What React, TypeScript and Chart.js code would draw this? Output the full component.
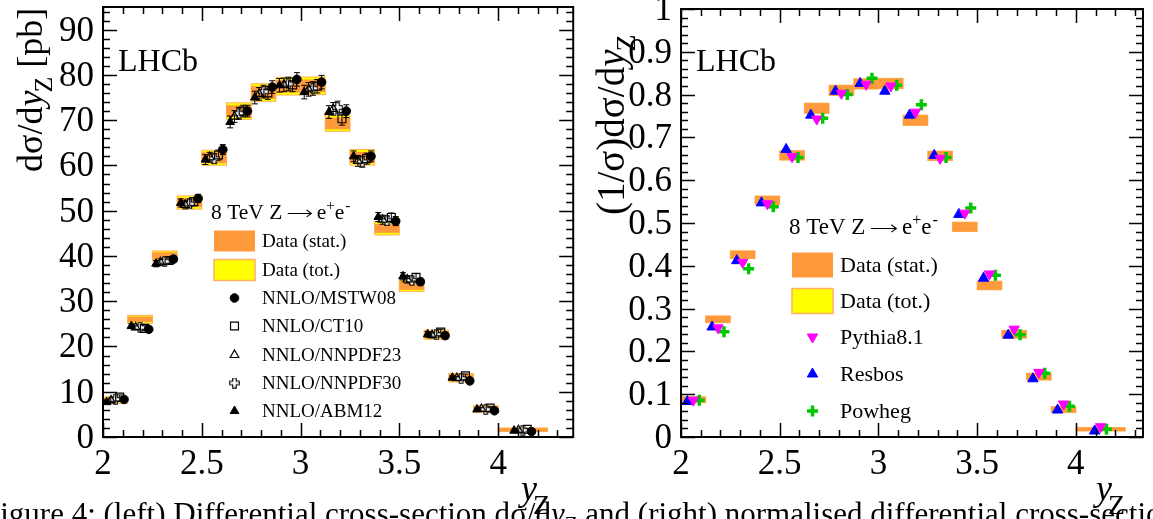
import React, { useEffect, useRef } from 'react';
import { Chart, registerables } from 'chart.js';
import { drawPoint } from 'chart.js/helpers';

Chart.register(...registerables);

const FONT = '"Liberation Serif", "Times New Roman", serif';
const ORANGE = '#fe9a3c';
const ORANGE_EDGE = '#ffb060';
const YELLOW = '#ffff00';

// ---------- shared binning ----------
const binEdges = [2.0, 2.125, 2.25, 2.375, 2.5, 2.625, 2.75, 2.875, 3.0, 3.125, 3.25, 3.375, 3.5, 3.625, 3.75, 3.875, 4.0, 4.25];
const binCentres = [2.0625, 2.1875, 2.3125, 2.4375, 2.5625, 2.6875, 2.8125, 2.9375, 3.0625, 3.1875, 3.3125, 3.4375, 3.5625, 3.6875, 3.8125, 3.9375, 4.125];

// ---------- left panel: dsigma/dy [pb] ----------
const dsdyData = [8.15, 26.0, 40.0, 51.8, 61.7, 72.0, 76.1, 77.5, 77.6, 69.3, 61.8, 46.1, 33.5, 22.6, 13.1, 6.15, 1.6];
const dsdyStat = [0.5, 0.6, 0.8, 1.0, 1.2, 1.3, 1.4, 1.4, 1.4, 1.3, 1.2, 1.0, 1.0, 0.8, 0.7, 0.6, 0.35];
const dsdyTot = [0.73, 0.88, 1.1, 1.47, 1.66, 1.84, 1.95, 1.95, 1.95, 1.77, 1.73, 1.47, 1.37, 1.0, 0.93, 0.77, 0.4];

const mstw08 = [8.3, 23.8, 39.3, 52.7, 63.5, 72.0, 77.3, 79.0, 78.4, 72.0, 62.0, 47.7, 34.3, 22.4, 12.4, 5.8, 1.2];
const ct10 = [8.8, 24.0, 39.0, 52.0, 62.3, 72.0, 76.0, 77.8, 77.5, 70.3, 61.5, 48.5, 35.3, 23.2, 13.5, 6.4, 1.7];
const nnpdf23 = [8.1, 24.2, 38.6, 51.3, 61.8, 70.8, 75.8, 77.8, 76.8, 72.5, 61.0, 48.0, 34.8, 22.5, 13.0, 6.2, 1.5];
const nnpdf30 = [8.3, 24.2, 38.8, 51.5, 61.5, 71.5, 76.3, 78.0, 77.0, 72.8, 60.8, 47.8, 34.6, 22.6, 12.9, 6.1, 1.5];
const abm12 = [7.7, 24.5, 38.3, 51.7, 61.3, 69.6, 75.0, 77.7, 76.2, 71.8, 62.0, 48.6, 35.5, 22.7, 13.1, 6.1, 1.4];
const nnloErr = [0.5, 0.5, 0.7, 0.9, 1.1, 1.3, 1.4, 1.5, 1.5, 1.4, 1.2, 1.0, 0.8, 0.6, 0.4, 0.3, 0.2];
const nnloNames = ['NNLO/MSTW08', 'NNLO/CT10', 'NNLO/NNPDF23', 'NNLO/NNPDF30', 'NNLO/ABM12'];
const nnloShift = [0.044, 0.022, -0.022, 0.0, -0.044];

const leftYTicks = [0, 10, 20, 30, 40, 50, 60, 70, 80, 90];
const leftYLabels = ['0', '10', '20', '30', '40', '50', '60', '70', '80', '90'];

// ---------- right panel: (1/sigma) dsigma/dy ----------
const normData = [0.087, 0.275, 0.426, 0.553, 0.658, 0.768, 0.810, 0.825, 0.826, 0.740, 0.657, 0.491, 0.354, 0.240, 0.141, 0.064, 0.018];
const normStat = [0.007, 0.008, 0.009, 0.010, 0.011, 0.012, 0.012, 0.012, 0.012, 0.012, 0.011, 0.011, 0.010, 0.009, 0.008, 0.007, 0.004];
const normTot = [0.007, 0.008, 0.009, 0.010, 0.011, 0.012, 0.012, 0.012, 0.012, 0.012, 0.011, 0.011, 0.010, 0.009, 0.008, 0.007, 0.004];

const pythia81 = [0.086, 0.255, 0.408, 0.545, 0.655, 0.743, 0.803, 0.824, 0.820, 0.759, 0.651, 0.523, 0.381, 0.252, 0.151, 0.077, 0.024];
const resbos = [0.083, 0.257, 0.412, 0.547, 0.672, 0.752, 0.808, 0.826, 0.808, 0.752, 0.658, 0.520, 0.371, 0.238, 0.136, 0.063, 0.014];
const powheg = [0.086, 0.246, 0.393, 0.538, 0.653, 0.745, 0.800, 0.838, 0.822, 0.776, 0.653, 0.535, 0.378, 0.239, 0.149, 0.072, 0.018];
const mcNames = ['Pythia8.1', 'Resbos', 'Powheg'];
const mcShift = [0.0, -0.03, 0.03];

const rightYTicks = [0, 0.1, 0.2, 0.3, 0.4, 0.5, 0.6, 0.7, 0.8, 0.9, 1.0];
const rightYLabels = ['0', '0.1', '0.2', '0.3', '0.4', '0.5', '0.6', '0.7', '0.8', '0.9', '1'];

const xTicks = [2, 2.5, 3, 3.5, 4];
const xLabels = ['2', '2.5', '3', '3.5', '4'];

// ---------- marker helpers ----------
function openCrossImage(): HTMLCanvasElement {
  const c = document.createElement('canvas');
  c.width = 11; c.height = 11;
  const g = c.getContext('2d')!;
  const a = 1.8, L = 4.8, cx = 5.5, cy = 5.5;
  g.beginPath();
  g.moveTo(cx - a, cy - L); g.lineTo(cx + a, cy - L); g.lineTo(cx + a, cy - a);
  g.lineTo(cx + L, cy - a); g.lineTo(cx + L, cy + a); g.lineTo(cx + a, cy + a);
  g.lineTo(cx + a, cy + L); g.lineTo(cx - a, cy + L); g.lineTo(cx - a, cy + a);
  g.lineTo(cx - L, cy + a); g.lineTo(cx - L, cy - a); g.lineTo(cx - a, cy - a);
  g.closePath();
  g.fillStyle = '#ffffff'; g.fill();
  g.strokeStyle = '#000'; g.lineWidth = 1.1; g.stroke();
  return c;
}

type MarkerSpec = { pointStyle: any; radius: number; rotation?: number; fill: string; stroke: string; borderWidth: number };

function drawMarker(ctx: CanvasRenderingContext2D, m: MarkerSpec, x: number, y: number) {
  ctx.save();
  ctx.fillStyle = m.fill;
  ctx.strokeStyle = m.stroke;
  ctx.lineWidth = m.borderWidth;
  drawPoint(ctx, { pointStyle: m.pointStyle, radius: m.radius, rotation: m.rotation || 0, borderWidth: m.borderWidth } as any, x, y);
  ctx.restore();
}

// ---------- plugins ----------
function boxesPlugin(values: number[], stat: number[], tot: number[]) {
  return {
    id: 'dataBoxes',
    beforeDatasetsDraw(chart: any) {
      const { ctx, scales: { x, y } } = chart;
      ctx.save();
      for (let i = 0; i < values.length; i++) {
        const x0 = x.getPixelForValue(binEdges[i]);
        const x1 = x.getPixelForValue(binEdges[i + 1]);
        const ty0 = y.getPixelForValue(values[i] + tot[i]);
        const ty1 = y.getPixelForValue(values[i] - tot[i]);
        ctx.fillStyle = YELLOW;
        ctx.fillRect(x0, ty0, x1 - x0, ty1 - ty0);
        ctx.strokeStyle = ORANGE_EDGE;
        ctx.lineWidth = 1;
        ctx.strokeRect(x0, ty0, x1 - x0, ty1 - ty0);
        const sy0 = y.getPixelForValue(values[i] + stat[i]);
        const sy1 = y.getPixelForValue(values[i] - stat[i]);
        ctx.fillStyle = ORANGE;
        ctx.fillRect(x0, sy0, x1 - x0, sy1 - sy0);
      }
      ctx.restore();
    },
  };
}

function errorBarsPlugin(errs: number[] | null) {
  return {
    id: 'errBars',
    beforeDatasetsDraw(chart: any) {
      if (!errs) return;
      const { ctx, scales: { x, y } } = chart;
      ctx.save();
      ctx.strokeStyle = '#000';
      ctx.lineWidth = 1;
      chart.data.datasets.forEach((ds: any) => {
        ds.data.forEach((p: any, i: number) => {
          const px = x.getPixelForValue(p.x);
          const yt = y.getPixelForValue(p.y + errs[i]);
          const yb = y.getPixelForValue(p.y - errs[i]);
          ctx.beginPath();
          ctx.moveTo(px, yt); ctx.lineTo(px, yb);
          ctx.moveTo(px - 3, yt); ctx.lineTo(px + 3, yt);
          ctx.moveTo(px - 3, yb); ctx.lineTo(px + 3, yb);
          ctx.stroke();
        });
      });
      ctx.restore();
    },
  };
}

type FrameCfg = {
  xMinorStep: number; xMajorEvery: number; xStart: number;
  yMinorStep: number; yMajorEvery: number;
  yTicks: number[]; yLabels: string[];
  yTitle: (ctx: CanvasRenderingContext2D) => void;
  xTitleX: number;
};

function framePlugin(cfg: FrameCfg) {
  return {
    id: 'rootFrame',
    afterDatasetsDraw(chart: any) {
      const { ctx, chartArea: { left, right, top, bottom }, scales: { x, y } } = chart;
      ctx.save();
      ctx.strokeStyle = '#000';
      ctx.lineWidth = 1.5;
      for (let k = 0; ; k++) {
        const v = cfg.xStart + k * cfg.xMinorStep;
        if (v > x.max + 1e-9) break;
        const px = Math.round(x.getPixelForValue(v)) + 0.5;
        const len = k % cfg.xMajorEvery === 0 ? 14 : 7;
        ctx.beginPath();
        ctx.moveTo(px, bottom); ctx.lineTo(px, bottom - len);
        ctx.moveTo(px, top); ctx.lineTo(px, top + len);
        ctx.stroke();
      }
      for (let k = 0; ; k++) {
        const v = y.min + k * cfg.yMinorStep;
        if (v > y.max + 1e-9) break;
        const py = Math.round(y.getPixelForValue(v)) + 0.5;
        const len = k % cfg.yMajorEvery === 0 ? 14 : 7;
        ctx.beginPath();
        ctx.moveTo(left, py); ctx.lineTo(left + len, py);
        ctx.moveTo(right, py); ctx.lineTo(right - len, py);
        ctx.stroke();
      }
      ctx.lineWidth = 2;
      ctx.strokeRect(left, top, right - left, bottom - top);
      ctx.restore();
    },
    afterDraw(chart: any) {
      const { ctx, chartArea: { left, bottom }, scales: { x, y } } = chart;
      ctx.save();
      ctx.fillStyle = '#000';
      ctx.font = `35px ${FONT}`;
      ctx.textAlign = 'center';
      ctx.textBaseline = 'alphabetic';
      xTicks.forEach((v, i) => ctx.fillText(xLabels[i], x.getPixelForValue(v), bottom + 37));
      ctx.textAlign = 'right';
      cfg.yTicks.forEach((v, i) => ctx.fillText(cfg.yLabels[i], left - 9, y.getPixelForValue(v) + 11));
      // LHCb label
      ctx.textAlign = 'left';
      ctx.font = `32px ${FONT}`;
      ctx.fillText('LHCb', left + 15, 71);
      // x title y_Z
      ctx.font = `italic 36px ${FONT}`;
      ctx.fillText('y', cfg.xTitleX, 500);
      const wy = ctx.measureText('y').width;
      ctx.font = `28px ${FONT}`;
      ctx.fillText('Z', cfg.xTitleX + wy - 4, 514);
      cfg.yTitle(ctx);
      ctx.restore();
    },
  };
}

function drawRotatedTitle(ctx: CanvasRenderingContext2D, bx: number, by: number, size: number, parts: { t: string; italic?: boolean; sub?: boolean }[]) {
  ctx.save();
  ctx.translate(bx, by);
  ctx.rotate(-Math.PI / 2);
  ctx.textAlign = 'left';
  ctx.textBaseline = 'alphabetic';
  ctx.fillStyle = '#000';
  let cx = 0;
  parts.forEach((p) => {
    const s = p.sub ? Math.round(size * 0.72) : size;
    ctx.font = `${p.italic ? 'italic ' : ''}${s}px ${FONT}`;
    ctx.fillText(p.t, cx, p.sub ? size * 0.28 : 0);
    cx += ctx.measureText(p.t).width + (p.italic ? -2 : 0);
  });
  ctx.restore();
}

type LegendRow = { kind: 'stat' | 'tot' | 'marker'; label: string; marker?: MarkerSpec };

function legendPlugin(cfg: { x: number; titleY: number; titleSize: number; rows: LegendRow[]; rowYs: number[]; fontSize: number; swW: number; swH: number }) {
  return {
    id: 'rootLegend',
    afterDraw(chart: any) {
      const { ctx } = chart;
      ctx.save();
      const fs = cfg.titleSize;
      ctx.fillStyle = '#000';
      ctx.strokeStyle = '#000';
      ctx.textBaseline = 'middle';
      ctx.textAlign = 'left';
      // title: 8 TeV Z -> e+e-
      ctx.font = `${fs}px ${FONT}`;
      let tx = cfg.x - 3;
      const head = '8 TeV Z';
      ctx.fillText(head, tx, cfg.titleY);
      tx += ctx.measureText(head).width + fs * 0.25;
      const aw = fs * 1.1;
      const ay = cfg.titleY + fs * 0.02;
      ctx.lineWidth = Math.max(1, fs / 20);
      ctx.beginPath();
      ctx.moveTo(tx, ay); ctx.lineTo(tx + aw, ay);
      ctx.moveTo(tx + aw - fs * 0.22, ay - fs * 0.16); ctx.lineTo(tx + aw, ay); ctx.lineTo(tx + aw - fs * 0.22, ay + fs * 0.16);
      ctx.stroke();
      tx += aw + fs * 0.25;
      ctx.fillText('e', tx, cfg.titleY);
      tx += ctx.measureText('e').width;
      ctx.font = `${Math.round(fs * 0.7)}px ${FONT}`;
      ctx.fillText('+', tx, cfg.titleY - fs * 0.33);
      tx += ctx.measureText('+').width;
      ctx.font = `${fs}px ${FONT}`;
      ctx.fillText('e', tx, cfg.titleY);
      tx += ctx.measureText('e').width;
      ctx.font = `${Math.round(fs * 0.7)}px ${FONT}`;
      ctx.fillText('-', tx + 1, cfg.titleY - fs * 0.33);

      ctx.font = `${cfg.fontSize}px ${FONT}`;
      const mx = cfg.x + cfg.swW / 2;
      cfg.rows.forEach((r, i) => {
        const ry = cfg.rowYs[i];
        if (r.kind === 'stat') {
          ctx.fillStyle = ORANGE;
          ctx.fillRect(cfg.x, ry - cfg.swH / 2, cfg.swW, cfg.swH);
        } else if (r.kind === 'tot') {
          ctx.fillStyle = YELLOW;
          ctx.fillRect(cfg.x, ry - cfg.swH / 2, cfg.swW, cfg.swH);
          ctx.strokeStyle = ORANGE_EDGE;
          ctx.lineWidth = 1.5;
          ctx.strokeRect(cfg.x, ry - cfg.swH / 2, cfg.swW, cfg.swH);
        } else if (r.marker) {
          drawMarker(ctx, r.marker, mx, ry);
        }
        ctx.fillStyle = '#000';
        ctx.fillText(r.label, cfg.x + cfg.swW + 7, ry + 1);
      });
      ctx.restore();
    },
  };
}

function baseOptions(pad: any, xmax: number, ymax: number) {
  return {
    animation: false,
    responsive: false,
    maintainAspectRatio: false,
    events: [],
    layout: { padding: pad },
    scales: {
      x: { type: 'linear', min: 2, max: xmax, display: false },
      y: { type: 'linear', min: 0, max: ymax, display: false },
    },
    plugins: { legend: { display: false }, tooltip: { enabled: false } },
  };
}

function toPoints(vals: number[], shift: number) {
  return vals.map((v, i) => ({ x: binCentres[i] + shift, y: v }));
}

export default function App() {
  const leftRef = useRef<HTMLCanvasElement>(null);
  const rightRef = useRef<HTMLCanvasElement>(null);

  useEffect(() => {
    const crossImg = openCrossImage();
    const leftMarkers: MarkerSpec[] = [
      { pointStyle: 'circle', radius: 4.3, fill: '#000', stroke: '#000', borderWidth: 1 },
      { pointStyle: 'rect', radius: 5.6, fill: 'rgba(255,255,255,0)', stroke: '#000', borderWidth: 1.2 },
      { pointStyle: 'triangle', radius: 5, fill: 'rgba(255,255,255,0)', stroke: '#000', borderWidth: 1.2 },
      { pointStyle: crossImg, radius: 5, fill: '#000', stroke: '#000', borderWidth: 1 },
      { pointStyle: 'triangle', radius: 5, fill: '#000', stroke: '#000', borderWidth: 1 },
    ];
    const nnloSeries = [mstw08, ct10, nnpdf23, nnpdf30, abm12];
    const leftDatasets = nnloSeries.map((vals, k) => ({
      label: nnloNames[k],
      data: toPoints(vals, nnloShift[k]),
      showLine: false,
      pointStyle: leftMarkers[k].pointStyle,
      pointRadius: leftMarkers[k].radius,
      pointBackgroundColor: leftMarkers[k].fill,
      pointBorderColor: leftMarkers[k].stroke,
      pointBorderWidth: leftMarkers[k].borderWidth,
    }));

    const rightMarkers: MarkerSpec[] = [
      { pointStyle: 'triangle', radius: 6, rotation: 180, fill: '#ff00ff', stroke: '#ff00ff', borderWidth: 1 },
      { pointStyle: 'triangle', radius: 6, fill: '#0000ff', stroke: '#0000ff', borderWidth: 1 },
      { pointStyle: 'cross', radius: 5.5, fill: '#00c800', stroke: '#00c800', borderWidth: 3.5 },
    ];
    const mcSeries = [pythia81, resbos, powheg];
    const rightDatasets = mcSeries.map((vals, k) => ({
      label: mcNames[k],
      data: toPoints(vals, mcShift[k]),
      showLine: false,
      pointStyle: rightMarkers[k].pointStyle,
      pointRadius: rightMarkers[k].radius,
      pointRotation: rightMarkers[k].rotation || 0,
      pointBackgroundColor: rightMarkers[k].fill,
      pointBorderColor: rightMarkers[k].stroke,
      pointBorderWidth: rightMarkers[k].borderWidth,
    }));

    const leftChart = new Chart(leftRef.current!, {
      type: 'scatter',
      data: { datasets: leftDatasets as any },
      options: baseOptions({ left: 103, right: 5, top: 7, bottom: 82 }, 4.38, 95) as any,
      plugins: [
        boxesPlugin(dsdyData, dsdyStat, dsdyTot),
        errorBarsPlugin(nnloErr),
        framePlugin({
          xMinorStep: 0.1, xMajorEvery: 5, xStart: 2,
          yMinorStep: 2, yMajorEvery: 5,
          yTicks: leftYTicks, yLabels: leftYLabels,
          xTitleX: 521,
          yTitle: (ctx) => drawRotatedTitle(ctx, 42, 172, 36, [
            { t: 'd\u03c3/d' }, { t: 'y', italic: true }, { t: 'Z', sub: true }, { t: ' [pb]' },
          ]),
        }),
        legendPlugin({
          x: 214, titleY: 213, titleSize: 21.5, fontSize: 19, swW: 41, swH: 21,
          rows: [
            { kind: 'stat', label: 'Data (stat.)' },
            { kind: 'tot', label: 'Data (tot.)' },
            ...nnloNames.map((n, k) => ({ kind: 'marker' as const, label: n, marker: leftMarkers[k] })),
          ],
          rowYs: [241, 270, 298, 326, 355, 383, 411],
        }),
      ],
    });

    const rightChart = new Chart(rightRef.current!, {
      type: 'scatter',
      data: { datasets: rightDatasets as any },
      options: baseOptions({ left: 101, right: 10, top: 7, bottom: 82 }, 4.34, 1.0) as any,
      plugins: [
        boxesPlugin(normData, normStat, normTot),
        errorBarsPlugin(null),
        framePlugin({
          xMinorStep: 0.1, xMajorEvery: 5, xStart: 2,
          yMinorStep: 0.02, yMajorEvery: 5,
          yTicks: rightYTicks, yLabels: rightYLabels,
          xTitleX: 516,
          yTitle: (ctx) => drawRotatedTitle(ctx, 44, 215, 39, [
            { t: '(1/\u03c3)d\u03c3/d' }, { t: 'y', italic: true }, { t: 'Z', sub: true },
          ]),
        }),
        legendPlugin({
          x: 212, titleY: 228, titleSize: 23, fontSize: 22, swW: 41, swH: 25,
          rows: [
            { kind: 'stat', label: 'Data (stat.)' },
            { kind: 'tot', label: 'Data (tot.)' },
            ...mcNames.map((n, k) => ({ kind: 'marker' as const, label: n, marker: rightMarkers[k] })),
          ],
          rowYs: [265, 301, 337, 374, 411],
        }),
      ],
    });

    return () => {
      leftChart.destroy();
      rightChart.destroy();
    };
  }, []);

  return (
    <div style={{ position: 'absolute', left: 0, top: 0, width: 1153, height: 519, overflow: 'hidden', background: '#fff' }}>
      <canvas ref={leftRef} width={580} height={519} style={{ position: 'absolute', left: 0, top: 0, width: 580, height: 519 }} />
      <canvas ref={rightRef} width={573} height={519} style={{ position: 'absolute', left: 580, top: 0, width: 573, height: 519 }} />
      <div style={{ position: 'absolute', left: -17, top: 498, whiteSpace: 'nowrap', fontFamily: FONT, fontSize: 31, lineHeight: '31px', color: '#000' }}>
        Figure 4: (left) Differential cross-section d{'\u03c3'}/d<i>y</i><sub style={{ fontSize: 21, lineHeight: 0 }}>Z</sub> and (right) normalised differential cross-section (1/{'\u03c3'})d{'\u03c3'}/d<i>y</i>
      </div>
    </div>
  );
}
